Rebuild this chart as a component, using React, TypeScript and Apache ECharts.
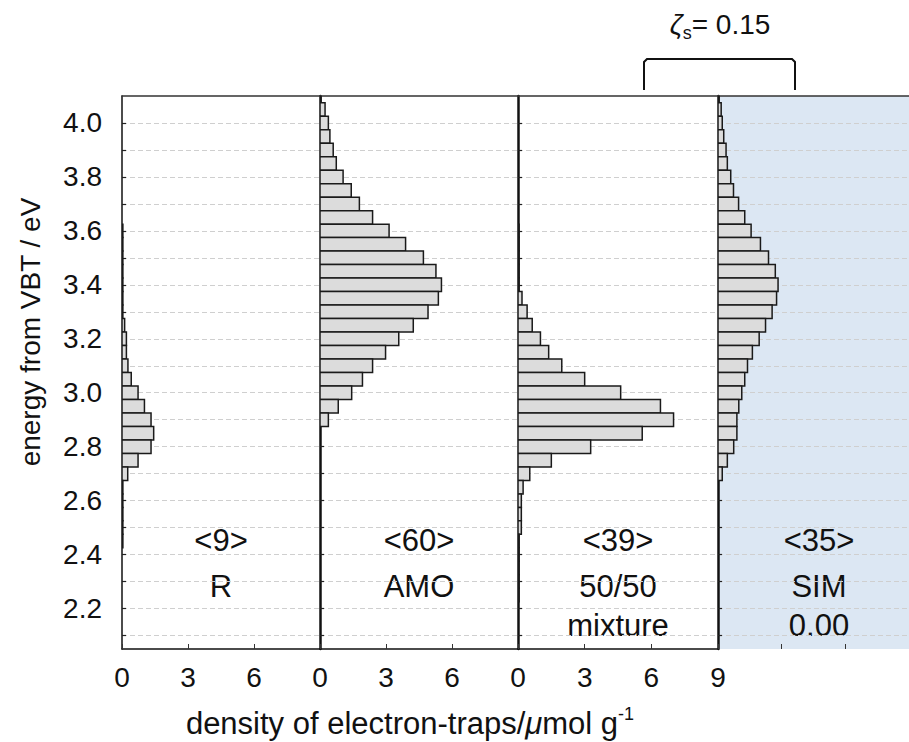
import React, { useEffect, useRef } from "react";
import * as echarts from "echarts";

// Bin width of the histograms (eV)
const BIN = 0.05;

// Panel 1: R
const energyR = [3.6, 3.55, 3.5, 3.45, 3.4, 3.35, 3.3, 3.25, 3.2, 3.15, 3.1, 3.05, 3.0, 2.95, 2.9, 2.85, 2.8, 2.75, 2.7, 2.65, 2.6, 2.55, 2.5, 2.45];
const densityR = [0.04, 0.04, 0.04, 0.04, 0.04, 0.04, 0.04, 0.12, 0.2, 0.2, 0.27, 0.42, 0.73, 1.02, 1.32, 1.44, 1.32, 0.73, 0.26, 0.04, 0.04, 0.04, 0.04, 0.04];

// Panel 2: AMO
const energyAMO = [4.1, 4.05, 4.0, 3.95, 3.9, 3.85, 3.8, 3.75, 3.7, 3.65, 3.6, 3.55, 3.5, 3.45, 3.4, 3.35, 3.3, 3.25, 3.2, 3.15, 3.1, 3.05, 3.0, 2.95, 2.9];
const densityAMO = [0.05, 0.23, 0.38, 0.45, 0.6, 0.74, 1.05, 1.42, 1.79, 2.39, 3.14, 3.89, 4.7, 5.27, 5.52, 5.38, 4.91, 4.24, 3.58, 2.98, 2.39, 1.93, 1.44, 0.83, 0.38];

// Panel 3: 50/50 mixture
const energyMIX = [3.6, 3.55, 3.5, 3.45, 3.4, 3.35, 3.3, 3.25, 3.2, 3.15, 3.1, 3.05, 3.0, 2.95, 2.9, 2.85, 2.8, 2.75, 2.7, 2.65, 2.6, 2.55, 2.5, 2.45, 2.4, 2.35, 2.3, 2.25];
const densityMIX = [0.05, 0.05, 0.05, 0.05, 0.05, 0.18, 0.41, 0.64, 1.01, 1.38, 1.97, 3.0, 4.62, 6.41, 7.0, 5.59, 3.27, 1.5, 0.53, 0.23, 0.15, 0.15, 0.15, 0.05, 0.05, 0.05, 0.05, 0.05];

// Panel 4: SIM
const energySIM = [4.1, 4.05, 4.0, 3.95, 3.9, 3.85, 3.8, 3.75, 3.7, 3.65, 3.6, 3.55, 3.5, 3.45, 3.4, 3.35, 3.3, 3.25, 3.2, 3.15, 3.1, 3.05, 3.0, 2.95, 2.9, 2.85, 2.8, 2.75, 2.7];
const densitySIM = [0.05, 0.15, 0.2, 0.27, 0.38, 0.44, 0.6, 0.73, 0.97, 1.26, 1.56, 2.0, 2.38, 2.7, 2.83, 2.76, 2.55, 2.24, 1.94, 1.62, 1.39, 1.26, 1.12, 0.98, 0.89, 0.89, 0.74, 0.44, 0.2];

// Axis ticks
const yTickValues = [2.1, 2.2, 2.3, 2.4, 2.5, 2.6, 2.7, 2.8, 2.9, 3.0, 3.1, 3.2, 3.3, 3.4, 3.5, 3.6, 3.7, 3.8, 3.9, 4.0];
const yLabelValues = [2.2, 2.4, 2.6, 2.8, 3.0, 3.2, 3.4, 3.6, 3.8, 4.0];

// Panel texts
const panelCount = ["<9>", "<60>", "<39>", "<35>"];
const panelName = ["R", "AMO", "50/50", "SIM"];
const panelSub = ["", "", "mixture", "0.00"];

const FONT = "'Liberation Sans', Arial, sans-serif";

export default function App() {
  const ref = useRef<HTMLDivElement>(null);

  useEffect(() => {
    document.body.style.margin = "0";
    const chart = echarts.init(ref.current!, null, { renderer: "svg" });

    const panels = [
      { e: energyR, d: densityR },
      { e: energyAMO, d: densityAMO },
      { e: energyMIX, d: densityMIX },
      { e: energySIM, d: densitySIM },
    ];
    const lefts = [122, 320, 518, 718];
    const widths = [198, 198, 200, 198];
    const centers = [221, 419, 618, 819];
    const top = 96;
    const height = 553;

    const grids = lefts.map((l, i) => ({
      left: l,
      top,
      width: widths[i],
      height,
      show: i === 3,
      backgroundColor: i === 3 ? "#dce7f3" : "transparent",
      borderWidth: 0,
    }));

    const xAxes: any[] = [];
    lefts.forEach((_, i) => {
      xAxes.push({
        gridIndex: i,
        type: "value",
        position: "bottom",
        min: 0,
        max: 9,
        interval: 3,
        axisLine: { show: i < 3, onZero: false, lineStyle: { color: "#111", width: 1.5 } },
        axisTick: { show: true, inside: true, length: 5, lineStyle: { color: "#333", width: 1 } },
        axisLabel: {
          show: i < 3,
          showMinLabel: true,
          showMaxLabel: i === 2,
          fontSize: 28,
          fontFamily: FONT,
          color: "#111",
          margin: 14,
        },
        splitLine: { show: false },
      });
    });
    lefts.forEach((_, i) => {
      xAxes.push({
        gridIndex: i,
        type: "value",
        position: "top",
        min: 0,
        max: 9,
        axisLine: { show: true, onZero: false, lineStyle: { color: "#333", width: 1.5 } },
        axisTick: { show: false },
        axisLabel: { show: false },
        splitLine: { show: false },
      });
    });

    const yAxes = lefts.map((_, i) => ({
      gridIndex: i,
      type: "value",
      min: 2.05,
      max: 4.1,
      axisLine: { show: true, onZero: false, lineStyle: { color: "#111", width: i === 0 ? 1.5 : 2.5 } },
      axisTick: {
        show: true,
        inside: true,
        length: 4,
        customValues: yTickValues,
        lineStyle: { color: "#222", width: 1.2 },
      },
      axisLabel: {
        show: i === 0,
        customValues: yLabelValues,
        formatter: (v: number) => v.toFixed(1),
        fontSize: 28,
        fontFamily: FONT,
        color: "#111",
        margin: 20,
      },
      splitLine: { show: true, lineStyle: { color: "#cfcfcf", type: [5, 3], width: 1 } },
    }));

    const series = panels.map((p, i) => ({
      type: "custom",
      xAxisIndex: i,
      yAxisIndex: i,
      clip: true,
      encode: { x: 0, y: 1 },
      data: p.e.map((e, k) => [p.d[k], e]),
      renderItem: (params: any, api: any) => {
        const v = api.value(0);
        const e = api.value(1);
        const a = api.coord([0, e + BIN / 2]);
        const b = api.coord([v, e - BIN / 2]);
        return {
          type: "rect",
          shape: { x: a[0], y: a[1], width: b[0] - a[0], height: b[1] - a[1] },
          style: { fill: "#dcdcdc", stroke: "#1a1a1a", lineWidth: 1.5 },
        };
      },
    }));

    const textStyle = (text: string, size = 31) => ({
      text,
      fontSize: size,
      fontFamily: FONT,
      fill: "#111",
      align: "center",
      verticalAlign: "middle",
    });

    const graphic: any[] = [];
    centers.forEach((cx, i) => {
      graphic.push({ type: "text", x: cx, y: 540, style: textStyle(panelCount[i]) });
      graphic.push({ type: "text", x: cx, y: 586, style: textStyle(panelName[i]) });
      if (panelSub[i]) graphic.push({ type: "text", x: cx, y: 625, style: textStyle(panelSub[i]) });
    });
    // y-axis title
    graphic.push({
      type: "text",
      x: 30,
      y: 332,
      rotation: Math.PI / 2,
      style: textStyle("energy from VBT / eV", 28),
    });
    // x-axis title
    graphic.push({
      type: "text",
      x: 410,
      y: 723,
      style: {
        text: "{n|density of electron-traps/}{i|μ}{n|mol g}{s|-1}",
        fontFamily: FONT,
        fontSize: 31,
        fill: "#111",
        align: "center",
        verticalAlign: "middle",
        rich: {
          n: { fontSize: 31, fontFamily: FONT, fill: "#111", lineHeight: 36 },
          i: { fontSize: 31, fontFamily: FONT, fill: "#111", fontStyle: "italic", lineHeight: 36 },
          s: { fontSize: 18, fontFamily: FONT, fill: "#111", verticalAlign: "top", lineHeight: 36 },
        },
      },
    });
    // zeta label
    graphic.push({
      type: "text",
      x: 720,
      y: 24,
      style: {
        text: "{z|ζ}{s|s}{n|= 0.15}",
        fontFamily: FONT,
        fontSize: 28,
        fill: "#111",
        align: "center",
        verticalAlign: "middle",
        rich: {
          z: { fontSize: 28, fontFamily: FONT, fill: "#111", fontStyle: "italic", lineHeight: 36 },
          s: { fontSize: 18, fontFamily: FONT, fill: "#111", verticalAlign: "bottom", lineHeight: 36 },
          n: { fontSize: 28, fontFamily: FONT, fill: "#111", lineHeight: 36 },
        },
      },
    });
    // bracket
    graphic.push({
      type: "polyline",
      shape: {
        points: [
          [644, 90],
          [644, 62],
          [647, 59],
          [792, 59],
          [795, 62],
          [795, 90],
        ],
      },
      style: { stroke: "#111", lineWidth: 2, fill: "none" },
    });

    chart.setOption({
      animation: false,
      grid: grids,
      xAxis: xAxes,
      yAxis: yAxes,
      series,
      graphic,
    });

    return () => chart.dispose();
  }, []);

  return <div ref={ref} style={{ width: 909, height: 742 }} />;
}
